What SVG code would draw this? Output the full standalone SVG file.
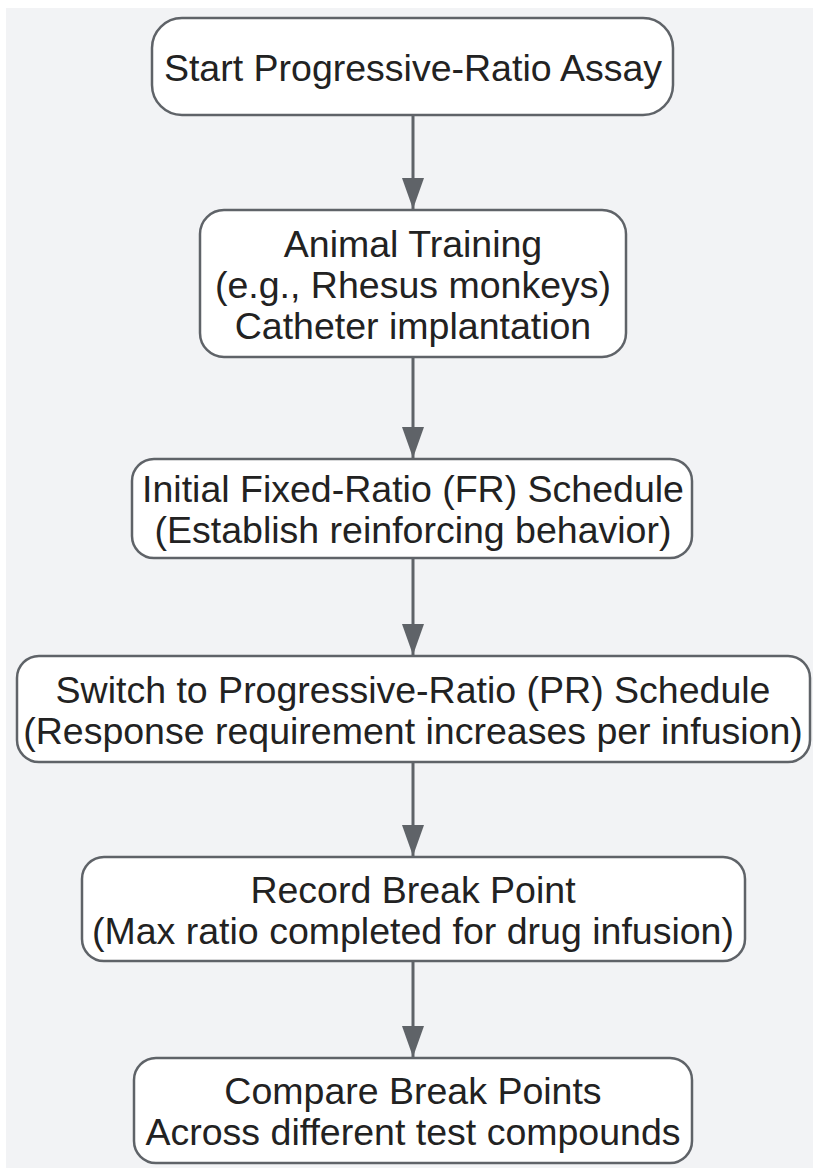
<svg xmlns="http://www.w3.org/2000/svg" width="813" height="1168" viewBox="0 0 813 1168">
<style>
.node rect{fill:#ffffff;stroke:#5f6368;stroke-width:2.5}
.node text{font-family:"Liberation Sans",Arial,sans-serif;font-size:37.5px;fill:#222222;text-anchor:middle}
.edge{stroke:#5f6368;stroke-width:3;fill:none}
</style>
<defs>
<marker id="ah" viewBox="0 0 31 22" refX="31" refY="11" markerWidth="31" markerHeight="22" markerUnits="userSpaceOnUse" orient="auto">
<path d="M0,0 L31,11 L0,22 Z" fill="#5f6368"/>
</marker>
</defs>
<rect x="6" y="8" width="807" height="1160" fill="#f2f3f5"/>
<g id="connectors">
<line class="edge" x1="413" y1="115" x2="413" y2="209" marker-end="url(#ah)"/>
<line class="edge" x1="413" y1="357" x2="413" y2="458" marker-end="url(#ah)"/>
<line class="edge" x1="413" y1="558" x2="413" y2="655" marker-end="url(#ah)"/>
<line class="edge" x1="413" y1="762" x2="413" y2="856" marker-end="url(#ah)"/>
<line class="edge" x1="413" y1="961" x2="413" y2="1057" marker-end="url(#ah)"/>
</g>
<g id="n1" class="node">
<rect x="152" y="18" width="521" height="97" rx="30" ry="30"/>
<text x="413" y="81">Start Progressive-Ratio Assay</text>
</g>
<g id="n2" class="node">
<rect x="200" y="210" width="426" height="147" rx="24" ry="24"/>
<text x="413" y="257">Animal Training</text>
<text x="413" y="298">(e.g., Rhesus monkeys)</text>
<text x="413" y="339">Catheter implantation</text>
</g>
<g id="n3" class="node">
<rect x="132" y="459" width="560" height="99" rx="22" ry="22"/>
<text x="413" y="502">Initial Fixed-Ratio (FR) Schedule</text>
<text x="413" y="543">(Establish reinforcing behavior)</text>
</g>
<g id="n4" class="node">
<rect x="17" y="656" width="793" height="106" rx="22" ry="22"/>
<text x="413" y="703">Switch to Progressive-Ratio (PR) Schedule</text>
<text x="413" y="744">(Response requirement increases per infusion)</text>
</g>
<g id="n5" class="node">
<rect x="82" y="857" width="663" height="104" rx="22" ry="22"/>
<text x="413" y="903">Record Break Point</text>
<text x="413" y="944">(Max ratio completed for drug infusion)</text>
</g>
<g id="n6" class="node">
<rect x="134" y="1058" width="558" height="105" rx="22" ry="22"/>
<text x="413" y="1104">Compare Break Points</text>
<text x="413" y="1145">Across different test compounds</text>
</g>
</svg>
